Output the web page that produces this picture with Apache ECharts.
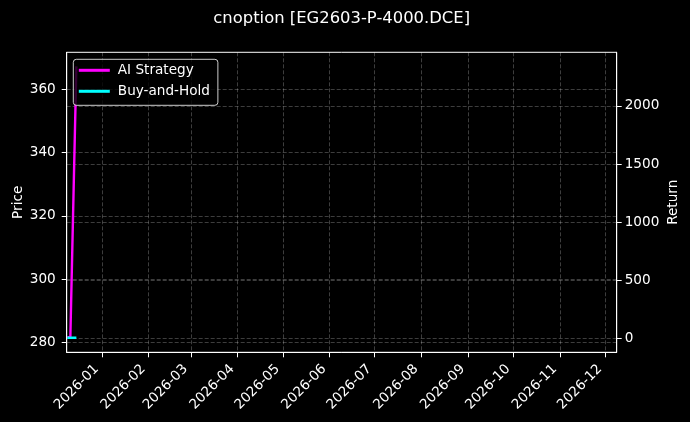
<!DOCTYPE html>
<html><head><meta charset="utf-8">
<script src="https://cdn.jsdelivr.net/npm/echarts@6/dist/echarts.min.js"></script>
<style>html,body{margin:0;padding:0;background:#000}#c{width:690px;height:422px}</style>
</head><body><div id="c"></div>
<script>
const chartTitle = 'cnoption [EG2603-P-4000.DCE]';
const seriesNames = ['AI Strategy', 'Buy-and-Hold'];
const dates = ['2025-12-09', '2025-12-10', '2025-12-11', '2025-12-12', '2025-12-15'];
const aiStrategy = [10, 10, 10, null, 2340];
const buyAndHold = [5, 5, 5, 5, 5];
const monthTicks = ['2026-01','2026-02','2026-03','2026-04','2026-05','2026-06','2026-07','2026-08','2026-09','2026-10','2026-11','2026-12'];
const priceTicks = [280, 300, 320, 340, 360];
const returnTicks = [0, 500, 1000, 1500, 2000];
const priceRange = [276.9, 371.7];
const returnRange = [-120.5, 2461];

function toTs(s) { const p = s.split('-').map(Number); return new Date(p[0], p[1] - 1, p[2] || 1).getTime(); }
const xMin = new Date(2025, 11, 8, 14).getTime();
const xMax = new Date(2026, 11, 8, 14).getTime();
const monthTs = monthTicks.map(toTs);
const FONT = 'DejaVu Sans';
const gridLine = { show: true, lineStyle: { color: 'rgba(255,255,255,0.3)', width: 0.8, type: [4, 2] } };

const chart = echarts.init(document.getElementById('c'), null, { renderer: 'canvas' });
chart.setOption({
  backgroundColor: '#000',
  animation: false,
  textStyle: { fontFamily: FONT, color: '#fff' },
  title: { text: chartTitle, left: 341.7, top: 11, padding: 0, textAlign: 'center',
    textStyle: { color: '#fff', fontSize: 16.4, fontWeight: 'normal', fontFamily: FONT } },
  grid: { left: 66.7, right: 73.3, top: 52.3, bottom: 69.7, containLabel: false, outerBoundsMode: 'none',
    show: true, borderColor: '#fff', borderWidth: 1, backgroundColor: 'transparent' },
  legend: {
    orient: 'vertical', left: 73.3, top: 59.3, padding: [4, 8, 7, 4], itemGap: 7, itemWidth: 31, itemHeight: 14,
    backgroundColor: 'rgba(0,0,0,0.8)', borderColor: 'rgba(255,255,255,0.8)', borderWidth: 1, borderRadius: 3,
    lineStyle: { width: 3 },
    itemStyle: { color: 'transparent', borderColor: 'transparent', borderWidth: 0, opacity: 0 },
    textStyle: { color: '#fff', fontSize: 13.6, fontFamily: FONT, padding: [0, 0, 0, 3] },
    data: seriesNames
  },
  xAxis: {
    type: 'value', min: xMin, max: xMax,
    axisLine: { show: true, onZero: false, lineStyle: { color: '#fff', width: 1 } },
    axisTick: { show: true, length: 5, lineStyle: { color: '#fff' }, customValues: monthTs },
    axisLabel: { show: true, color: '#fff', fontSize: 13.6, fontFamily: FONT, rotate: 45, margin: 9.4, padding: [0, 7.5, 0, 0],
      customValues: monthTs, formatter: v => { const i = monthTs.indexOf(v); return i >= 0 ? monthTicks[i] : ''; } },
    splitLine: gridLine
  },
  yAxis: [
    { type: 'value', min: priceRange[0], max: priceRange[1], position: 'left',
      name: 'Price', nameLocation: 'middle', nameGap: 41, nameMoveOverlap: false,
      nameTextStyle: { color: '#fff', fontSize: 13.6, fontFamily: FONT },
      axisLine: { show: true, lineStyle: { color: '#fff', width: 1 } },
      axisTick: { show: true, length: 5, lineStyle: { color: '#fff' }, customValues: priceTicks },
      axisLabel: { color: '#fff', fontSize: 13.6, fontFamily: FONT, margin: 11, customValues: priceTicks, formatter: v => String(v) },
      splitLine: gridLine },
    { type: 'value', min: returnRange[0], max: returnRange[1], position: 'right',
      name: 'Return', nameLocation: 'middle', nameGap: 50, nameMoveOverlap: false,
      nameTextStyle: { color: '#fff', fontSize: 13.6, fontFamily: FONT },
      axisLine: { show: true, lineStyle: { color: '#fff', width: 1 } },
      axisTick: { show: true, length: 5, lineStyle: { color: '#fff' }, customValues: returnTicks },
      axisLabel: { color: '#fff', fontSize: 13.6, fontFamily: FONT, margin: 8, customValues: returnTicks, formatter: v => String(v) },
      splitLine: gridLine }
  ],
  series: [
    { name: seriesNames[0], type: 'line', yAxisIndex: 1, symbol: 'none', connectNulls: true,
      lineStyle: { color: '#ff00ff', width: 2.4 }, itemStyle: { color: '#ff00ff' },
      data: dates.map((d, i) => [toTs(d), aiStrategy[i]]) },
    { name: seriesNames[1], type: 'line', yAxisIndex: 1, symbol: 'none',
      lineStyle: { color: '#00ffff', width: 2.4 }, itemStyle: { color: '#00ffff' },
      data: dates.map((d, i) => [toTs(d), buyAndHold[i]]) }
  ]
});
</script></body></html>
